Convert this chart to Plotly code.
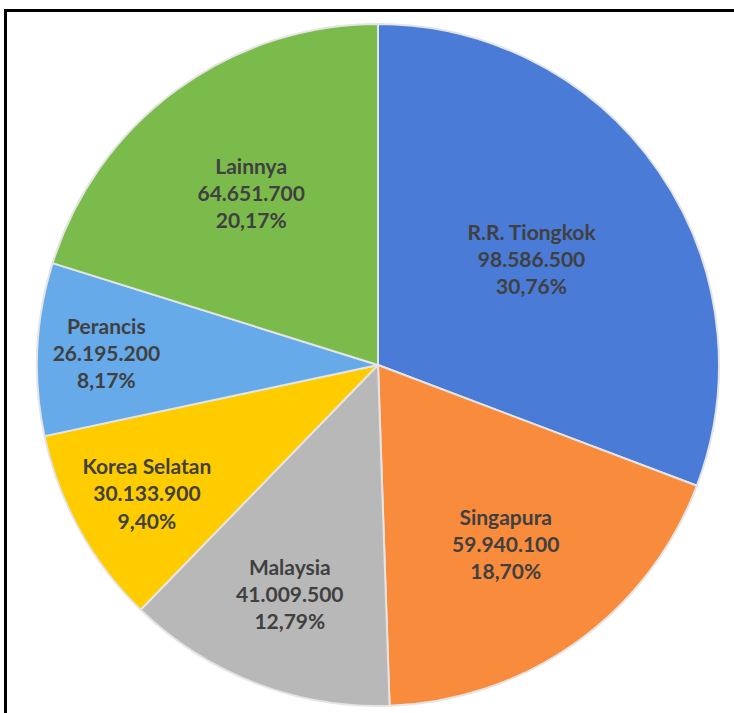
import plotly.graph_objects as go

labels = ["R.R. Tiongkok", "Singapura", "Malaysia", "Korea Selatan", "Perancis", "Lainnya"]
values = [98586500, 59940100, 41009500, 30133900, 26195200, 64651700]
colors = ["#4A7BD6", "#F88B3C", "#B8B8B8", "#FFCC00", "#66AAEA", "#7BBB4C"]

W, H = 734, 713
cx, cy, r = 378, 365, 341

fig = go.Figure(go.Pie(
    labels=labels,
    values=values,
    sort=False,
    direction="clockwise",
    rotation=0,
    marker=dict(colors=colors, line=dict(color="#E4E4E4", width=2)),
    texttemplate="%{label}<br>%{value:,}<br>%{percent:.2%}",
    textposition="inside",
    insidetextorientation="horizontal",
    textfont=dict(family="Lato", size=21, color="#404040", weight="bold"),
    domain=dict(x=[(cx - r) / W, (cx + r) / W], y=[1 - (cy + r) / H, 1 - (cy - r) / H]),
    showlegend=False,
    hoverinfo="skip",
))

fig.update_layout(
    width=W, height=H,
    margin=dict(l=0, r=0, t=0, b=0),
    paper_bgcolor="white",
    separators=",.",
    shapes=[dict(type="rect", xref="paper", yref="paper",
                 x0=5.5 / W, x1=1.2, y0=-0.2, y1=1 - 10.5 / H,
                 line=dict(color="black", width=3))],
)

fig.write_html("out.html", config={"displayModeBar": False},
               post_script="document.body.style.margin='0';document.body.style.overflow='hidden';")
